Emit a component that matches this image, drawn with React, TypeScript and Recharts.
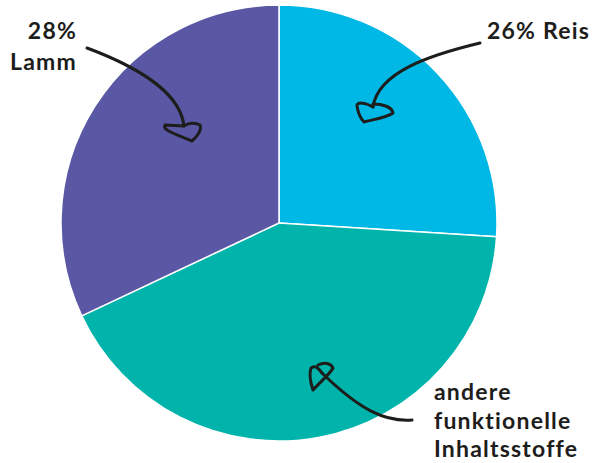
import { PieChart, Pie, Cell } from 'recharts'

const categories = ['Reis', 'andere funktionelle Inhaltsstoffe', 'Lamm']
const shares = [26, 42, 32]
const colors = ['#00b8e5', '#00b3ab', '#5a57a5']
const otherLines = ['andere', 'funktionelle', 'Inhaltsstoffe']

const ink = '#1d1d1b'
const font = 'Lato, "Open Sans", sans-serif'

const data = categories.map((name, i) => ({ name, value: shares[i] }))

function Arrows() {
  const line = { fill: 'none', stroke: ink, strokeWidth: 3, strokeLinecap: 'round' as const, strokeLinejoin: 'round' as const }
  return (
    <svg width={594} height={463} style={{ position: 'absolute', left: 0, top: 0, pointerEvents: 'none' }}>
      {/* Lamm */}
      <path d="M87 48 C130 64 180 90 184 126" {...line} />
      <path d="M184 126 L165 125 C162 130 175 134 192 141 C198 136 202 129 200 125 C195 122 188 123 184 126" {...line} />
      {/* Reis */}
      <path d="M480 43 C430 55 378 72 373 107" {...line} />
      <path d="M373 107 C365 102 356 102 357 106 C358 112 360 118 364 122 C376 119 388 117 393 113 C392 107 383 104 373 104" {...line} />
      {/* andere */}
      <path d="M412 420 C385 422 360 410 322 373" {...line} />
      <path d="M322 373 C318 368 316 365 311 368 C309 374 311 384 313 390 C320 382 330 374 333 368 C331 363 324 362 318 365" {...line} />
      <g fontFamily={font} fontWeight={700} fontSize={23} letterSpacing={1.2} fill={ink}>
        <text x={77} y={39} textAnchor="end">28%</text>
        <text x={77} y={70} textAnchor="end">Lamm</text>
        <text x={590} y={39} textAnchor="end">26% Reis</text>
        {otherLines.map((t, i) => (
          <text key={t} x={434} y={400 + i * 28.7}>{t}</text>
        ))}
      </g>
    </svg>
  )
}

export default function App() {
  return (
    <div style={{ position: 'absolute', left: 0, top: 0, width: 594, height: 463, background: '#fff' }}>
      <PieChart width={594} height={463} margin={{ top: 0, right: 0, bottom: 0, left: 0 }}>
        <Pie
          data={data}
          dataKey="value"
          nameKey="name"
          cx={279}
          cy={223}
          outerRadius={218}
          startAngle={90}
          endAngle={-270}
          stroke="#ffffff"
          strokeWidth={1.5}
          isAnimationActive={false}
        >
          {data.map((d, i) => (
            <Cell key={d.name} fill={colors[i]} />
          ))}
        </Pie>
      </PieChart>
      <Arrows />
    </div>
  )
}
